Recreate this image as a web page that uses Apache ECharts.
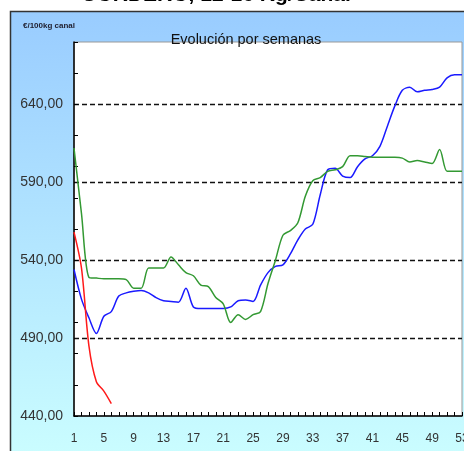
<!DOCTYPE html>
<html>
<head>
<meta charset="utf-8">
<script src="https://cdn.jsdelivr.net/npm/echarts@6/dist/echarts.min.js"></script>
<style>html,body{margin:0;padding:0;background:#fff;}#c{width:464px;height:451px;}</style>
</head>
<body>
<div id="c"></div>
<script>
var weeks = [];
for (var i = 1; i <= 53; i++) weeks.push(String(i));

var blueSeries = [534, 515, 503, 493, 504, 507, 517, 519, 520, 520.5, 519, 516, 514, 513.5, 513, 522, 510, 509, 509, 509, 509, 510,
  514, 514.5, 513.5, 524, 532, 536, 537, 544, 553, 560, 563, 582, 598, 599, 594, 593, 600, 605, 607, 613, 626,
  639, 649, 651, 648, 649, 649.5, 651, 657, 659, 659];
var greenSeries = [612, 570, 529, 528.5, 528, 528, 528, 527.5, 522, 522, 535, 535, 535, 542, 537, 532, 530, 524, 523, 516, 512, 500,
  505, 502, 505, 507, 525, 540, 556, 559, 564, 581, 591, 593, 597, 598, 600, 607, 607, 606.5, 606, 606, 606,
  606, 605.5, 603, 604, 603, 602, 611, 597, 597, 597];
var redSeries = [558, 535, 485, 462, 456, 448];

var chart = echarts.init(document.getElementById('c'), null, {renderer: 'canvas'});
function fmt(v) { return v.toFixed(2).replace('.', ','); }
chart.setOption({
  animation: false,
  backgroundColor: '#ffffff',
  graphic: [
    {type: 'rect', z: -10, shape: {x: 10.5, y: 11.5, width: 470, height: 460},
     style: {fill: new echarts.graphic.LinearGradient(0, 0, 0, 1, [{offset: 0, color: '#99ccff'}, {offset: 1, color: '#ccffff'}]),
             stroke: '#333', lineWidth: 1.5}},
    {type: 'text', z: 100, x: 216, y: 6, style: {text: 'CORDERO, 12-16 Kg/Canal', font: 'bold 21px Arial', fill: '#000', align: 'center', verticalAlign: 'bottom'}},
    {type: 'text', z: 100, x: 23, y: 26, style: {text: '€/100kg canal', font: 'bold 8px Arial', fill: '#223', align: 'left', verticalAlign: 'middle'}},
    {type: 'text', z: 100, x: 246, y: 40, style: {text: 'Evolución por semanas', font: '14.5px Arial', fill: '#111', align: 'center', verticalAlign: 'middle'}}
  ],
  grid: {left: 74, right: 2, top: 42, bottom: 35, outerBoundsMode: 'none', containLabel: false,
         show: true, backgroundColor: '#ffffff', borderColor: '#999', borderWidth: 1},
  xAxis: {
    type: 'category', data: weeks, boundaryGap: false,
    axisLine: {lineStyle: {color: '#000', width: 1.5}},
    axisTick: {inside: true, length: 4, interval: 0, lineStyle: {color: '#000', width: 1}},
    axisLabel: {interval: 3, margin: 17, color: '#333', fontFamily: 'Arial', fontSize: 12},
    splitLine: {show: false}
  },
  yAxis: [
    {type: 'value', min: 440, max: 680, interval: 20, position: 'left',
     axisLine: {show: true, lineStyle: {color: '#000', width: 1.5}},
     axisTick: {show: true, inside: true, length: 4, lineStyle: {color: '#000'}},
     axisLabel: {show: false}, splitLine: {show: false}},
    {type: 'value', min: 440, max: 680, interval: 50, position: 'left',
     axisLine: {show: false}, axisTick: {show: false},
     axisLabel: {margin: 11, color: '#333', fontFamily: 'Arial', fontSize: 14, showMaxLabel: false,
       formatter: function (v) { return v > 660 ? '' : fmt(v); }},
     splitLine: {show: true, showMinLine: false, showMaxLine: false, lineStyle: {color: '#111', type: [5, 3], width: 1.3}}}
  ],
  series: [
    {type: 'line', name: 'blue', data: blueSeries, yAxisIndex: 0, symbol: 'none', smooth: 0.3, lineStyle: {color: '#1a1aff', width: 1.5}, z: 3},
    {type: 'line', name: 'green', data: greenSeries, yAxisIndex: 0, symbol: 'none', smooth: 0.3, lineStyle: {color: '#339933', width: 1.5}, z: 4},
    {type: 'line', name: 'red', data: redSeries, yAxisIndex: 0, symbol: 'none', smooth: 0.3, lineStyle: {color: '#ff1a1a', width: 1.5}, z: 5}
  ]
});
</script>
</body>
</html>
